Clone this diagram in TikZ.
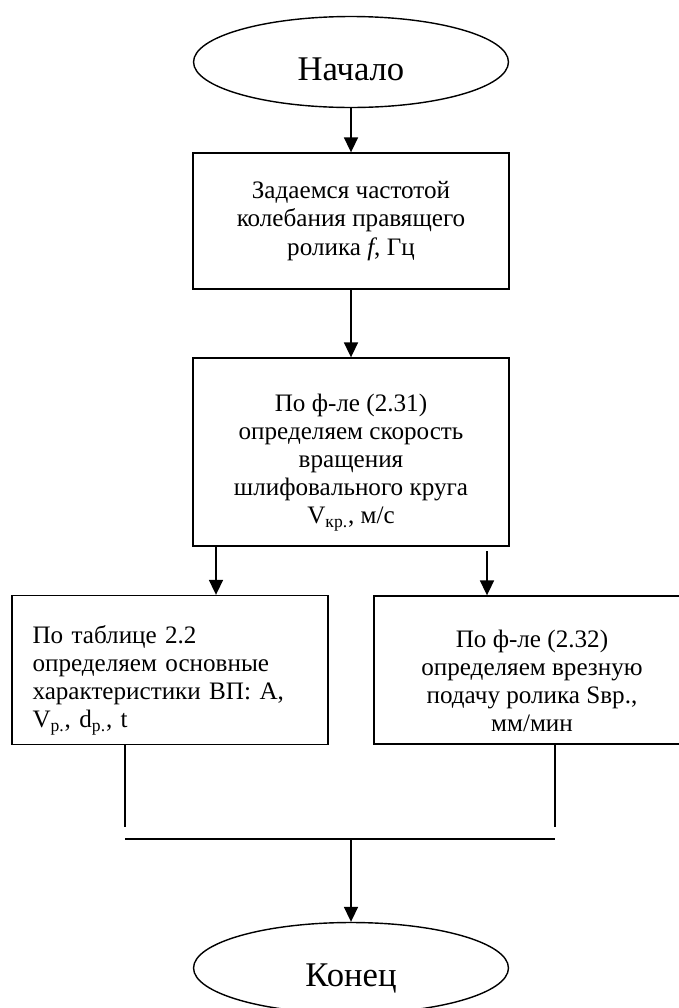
\documentclass[tikz,border=0pt]{standalone}
\usepackage{fontspec}
\setmainfont{Liberation Serif}
\usetikzlibrary{shapes.geometric,arrows.meta}
\newcommand{\lift}{\rule{0pt}{22pt}}

\begin{document}
\begin{tikzpicture}[x=0.02cm,y=-0.02cm,line width=0.8pt,
				term/.style={draw,ellipse,minimum width=6.3cm,minimum height=1.82cm,text height=21pt,text depth=0pt,font=\fontsize{19.7}{22}\selectfont},
				block/.style={draw,rectangle,minimum width=6.32cm,font=\fontsize{14.3}{16}\selectfont},
				arr/.style={-{Triangle[width=8pt,length=8.5pt]}}]
				\useasboundingbox (0,0) rectangle (679,1008);
				\node[term] (A) at (351,62) {Начало};
				\node[block,minimum height=2.72cm,align=center] (B) at (351,221) {Задаемся частотой\\колебания правящего\\ролика \textit{f}, Гц};
				\node[block,minimum height=3.76cm,align=center] (C) at (351,452) {\lift По ф-ле (2.31)\\определяем скорость\\вращения\\шлифовального круга\\V\textsubscript{кр.}, м/с};
				\node[block,minimum height=2.98cm,text width=5.5cm,inner xsep=0.38cm,align=left] (D) at (170,670) {\lift По таблице 2.2\\определяем основные\\характеристики ВП: А,\\V\textsubscript{р.}, d\textsubscript{р.}, t};
				\node[block,minimum height=2.96cm,align=center] (E) at (532,670) {\lift По ф-ле (2.32)\\определяем врезную\\подачу ролика Sвр.,\\мм/мин};
				\node[term] (F) at (351,968) {Конец};
				\coordinate (c1) at (216,546);
				\coordinate (c2) at (487,551);
				\coordinate (d1) at (125,827);
				\coordinate (e1) at (555,827);
				\coordinate (j) at (351,839);
				\draw[arr] (A) -- (B);
				\draw[arr] (B) -- (C);
				\draw[arr] (c1) -- (c1 |- D.north);
				\draw[arr] (c2) -- (c2 |- E.north);
				\draw (d1 |- D.south) -- (d1);
				\draw (e1 |- E.south) -- (e1);
				\draw (d1 |- j) -- (e1 |- j);
				\draw[arr] (j) -- (F);
			\end{tikzpicture}
\end{document}
